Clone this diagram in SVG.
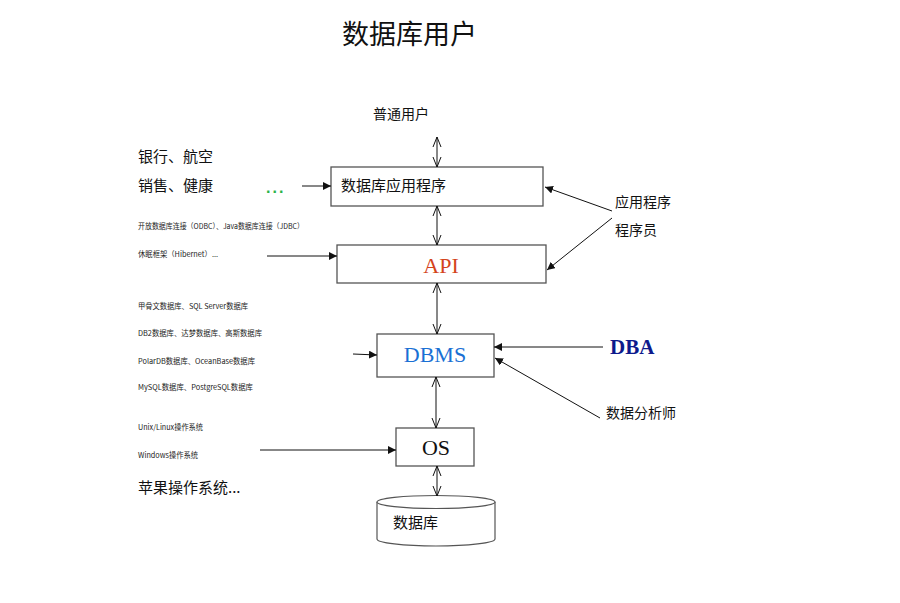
<svg xmlns="http://www.w3.org/2000/svg" width="900" height="603" viewBox="0 0 900 603">
<style>
.cn{font-family:"Noto Sans CJK SC","Noto Sans",sans-serif;fill:#111}
.sm{font-size:7.5px;fill:#222}
.md{font-size:14px}
.lg{font-size:15px}
.box{fill:#fff;stroke:#555;stroke-width:1.3}
.ln{stroke:#111;stroke-width:1;fill:none}
.serif{font-family:"Liberation Serif","Times New Roman",serif;font-size:22px}
</style>
<defs>
<marker id="open" viewBox="0 0 10 10" refX="10" refY="5" markerWidth="10" markerHeight="10" markerUnits="userSpaceOnUse" orient="auto-start-reverse">
<path d="M0,1 L10,5 L0,9" fill="none" stroke="#111" stroke-width="1"/>
</marker>
<marker id="fill" viewBox="0 0 10 10" refX="10" refY="5" markerWidth="8" markerHeight="8" markerUnits="userSpaceOnUse" orient="auto">
<path d="M0,0 L10,5 L0,10 Z" fill="#111"/>
</marker>
</defs>
<rect width="900" height="603" fill="#fff"/>
<text class="cn" x="342" y="44" font-size="27">数据库用户</text>

<g id="user"><text class="cn md" x="373" y="119">普通用户</text></g>

<g id="app"><rect class="box" x="331" y="167" width="212" height="39"/><text class="cn lg" x="341" y="191">数据库应用程序</text></g>
<g id="api"><rect class="box" x="337" y="245" width="209" height="38"/><text class="serif" x="441" y="273" text-anchor="middle" fill="#d4441c">API</text></g>
<g id="dbms"><rect class="box" x="377" y="334" width="117" height="43"/><text class="serif" x="435" y="362" text-anchor="middle" fill="#1a70d4">DBMS</text></g>
<g id="os"><rect class="box" x="396" y="428" width="78" height="38"/><text class="serif" x="436" y="455" text-anchor="middle" fill="#111">OS</text></g>
<g id="db">
<path d="M377,502 L377,539 A59,7 0 0 0 495,539 L495,502" fill="#fff" stroke="#555" stroke-width="1.2"/>
<ellipse cx="436" cy="502" rx="59" ry="6.5" fill="#fff" stroke="#555" stroke-width="1.2"/>
<text class="cn lg" x="393" y="528">数据库</text>
</g>

<g id="left1">
<text class="cn lg" x="138" y="162">银行、航空</text>
<text class="cn lg" x="138" y="191">销售、健康</text>
<text x="266" y="193" font-family="Liberation Sans,sans-serif" font-size="16" font-weight="bold" fill="#2bb34a" letter-spacing="2">...</text>
</g>
<g id="left2">
<text class="cn sm" x="138" y="229" textLength="166" lengthAdjust="spacingAndGlyphs">开放数据库连接（ODBC）、Java数据库连接（JDBC）</text>
<text class="cn sm" x="138" y="257" textLength="80" lengthAdjust="spacingAndGlyphs">休眠框架（Hibernet）...</text>
</g>
<g id="left3">
<text class="cn sm" x="138" y="309" textLength="110" lengthAdjust="spacingAndGlyphs">甲骨文数据库、SQL Server数据库</text>
<text class="cn sm" x="138" y="336" textLength="124" lengthAdjust="spacingAndGlyphs">DB2数据库、达梦数据库、高斯数据库</text>
<text class="cn sm" x="138" y="364" textLength="117" lengthAdjust="spacingAndGlyphs">PolarDB数据库、OceanBase数据库</text>
<text class="cn sm" x="138" y="390" textLength="115" lengthAdjust="spacingAndGlyphs">MySQL数据库、PostgreSQL数据库</text>
</g>
<g id="left4">
<text class="cn sm" x="138" y="430" textLength="65" lengthAdjust="spacingAndGlyphs">Unix/Linux操作系统</text>
<text class="cn sm" x="138" y="458" textLength="60" lengthAdjust="spacingAndGlyphs">Windows操作系统</text>
<text class="cn lg" x="138" y="493">苹果操作系统...</text>
</g>
<g id="right1">
<text class="cn md" x="615" y="207">应用程序</text>
<text class="cn md" x="615" y="235">程序员</text>
</g>
<g id="dba"><text x="610" y="354" font-family="Liberation Serif,serif" font-size="21" font-weight="bold" fill="#0d1a8c">DBA</text></g>
<g id="analyst"><text class="cn md" x="606" y="418">数据分析师</text></g>

<g id="connectors">
<line class="ln" x1="437" y1="137" x2="437" y2="167" marker-start="url(#open)" marker-end="url(#open)"/>
<line class="ln" x1="437" y1="206" x2="437" y2="245" marker-start="url(#open)" marker-end="url(#open)"/>
<line class="ln" x1="437" y1="283" x2="437" y2="334" marker-start="url(#open)" marker-end="url(#open)"/>
<line class="ln" x1="436" y1="377" x2="436" y2="428" marker-start="url(#open)" marker-end="url(#open)"/>
<line class="ln" x1="437" y1="466" x2="437" y2="496" marker-start="url(#open)" marker-end="url(#open)"/>
<line class="ln" x1="302" y1="186" x2="331" y2="186" marker-end="url(#fill)"/>
<line class="ln" x1="267" y1="256" x2="337" y2="256" marker-end="url(#fill)"/>
<line class="ln" x1="353" y1="354" x2="377" y2="355" marker-end="url(#fill)"/>
<line class="ln" x1="260" y1="450" x2="396" y2="450" marker-end="url(#fill)"/>
<line class="ln" x1="612" y1="211" x2="545" y2="187" marker-end="url(#fill)"/>
<line class="ln" x1="612" y1="218" x2="547" y2="270" marker-end="url(#fill)"/>
<line class="ln" x1="603" y1="347" x2="494" y2="347" marker-end="url(#fill)"/>
<line class="ln" x1="600" y1="418" x2="495" y2="358" marker-end="url(#fill)"/>
</g>
</svg>
